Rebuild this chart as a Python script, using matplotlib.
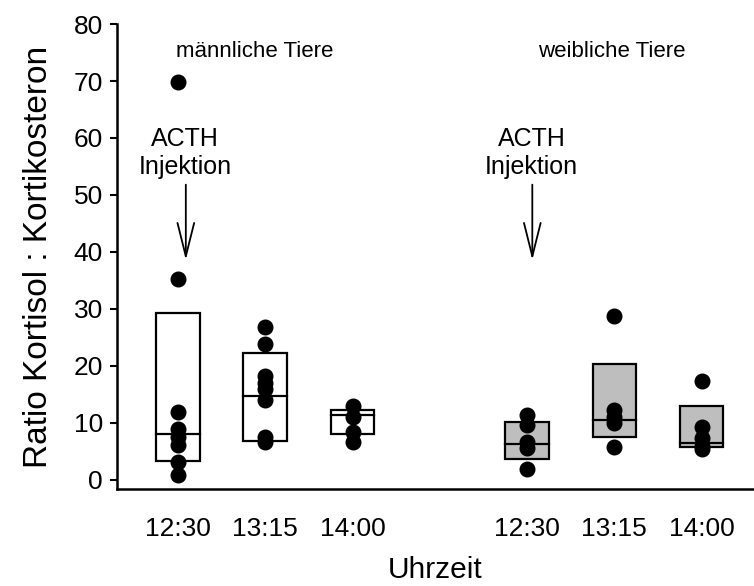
import matplotlib
matplotlib.use("Agg")
import matplotlib.pyplot as plt
from matplotlib.patches import Rectangle

plt.rcParams['font.family'] = ['Liberation Sans', 'DejaVu Sans']

# ---- data ----
tick_labels = ["12:30", "13:15", "14:00", "12:30", "13:15", "14:00"]
positions = [1, 2, 3, 5, 6, 7]
groups = ["männliche Tiere", "weibliche Tiere"]

male_1230 = [69.8, 35.3, 12.0, 9.0, 7.6, 6.1, 3.2, 0.9]
male_1315 = [26.9, 23.9, 18.2, 17.0, 16.0, 14.0, 7.6, 6.7]
male_1400 = [12.9, 11.1, 8.4, 6.6]
female_1230 = [11.4, 9.6, 6.7, 5.6, 1.9]
female_1315 = [28.8, 12.3, 11.1, 9.9, 5.8]
female_1400 = [17.3, 9.2, 7.3, 6.0, 5.4]
points = [male_1230, male_1315, male_1400, female_1230, female_1315, female_1400]

box_q1 = [3.4, 6.8, 8.0, 3.6, 7.6, 5.8]
box_median = [8.0, 14.8, 11.4, 6.3, 10.5, 6.4]
box_q3 = [29.3, 22.2, 12.2, 10.2, 20.3, 12.9]
box_colors = ["white", "white", "white", "#bebebe", "#bebebe", "#bebebe"]

# ---- figure ----
fig = plt.figure(figsize=(7.54, 5.86), dpi=100)
ax = fig.add_axes([0.155, 0.1655, 0.845, 0.7935])

box_w = 0.5
for p, q1, med, q3, col in zip(positions, box_q1, box_median, box_q3, box_colors):
    ax.add_patch(Rectangle((p - box_w / 2, q1), box_w, q3 - q1,
                           facecolor=col, edgecolor="black", lw=1.6, zorder=2))
    ax.plot([p - box_w / 2, p + box_w / 2], [med, med], color="black", lw=1.6, zorder=2)

for p, vals in zip(positions, points):
    ax.plot([p] * len(vals), vals, "o", color="black", markersize=10.5, zorder=3)

ax.set_xlim(0.30, 7.6)
ax.set_ylim(-1.6, 80)
ax.set_xticks(positions)
ax.set_xticklabels(tick_labels, fontsize=19)
ax.set_yticks(range(0, 81, 10))
ax.tick_params(axis="y", labelsize=19, length=5, width=1.5, pad=5)
ax.tick_params(axis="x", length=0, pad=20)
for s in ["top", "right"]:
    ax.spines[s].set_visible(False)
for s in ["left", "bottom"]:
    ax.spines[s].set_linewidth(1.8)

ax.set_ylabel("Ratio Kortisol : Kortikosteron", fontsize=24, labelpad=14)
ax.set_xlabel("Uhrzeit", fontsize=21.5, labelpad=11)

ax.text(1.88, 75.1, groups[0], fontsize=16, ha="center", va="center")
ax.text(5.97, 75.1, groups[1], fontsize=16, ha="center", va="center")

for x in [1.08, 5.05]:
    ax.text(x, 57.3, "ACTH\nInjektion", fontsize=18, ha="center", va="center", linespacing=1.2)
    ax.annotate("", xy=(x + 0.01, 38.1), xytext=(x + 0.01, 52.3),
                arrowprops=dict(arrowstyle="->,head_length=2.4,head_width=0.6", lw=1.3, color="black"))

fig.savefig("out.png", dpi=100)
